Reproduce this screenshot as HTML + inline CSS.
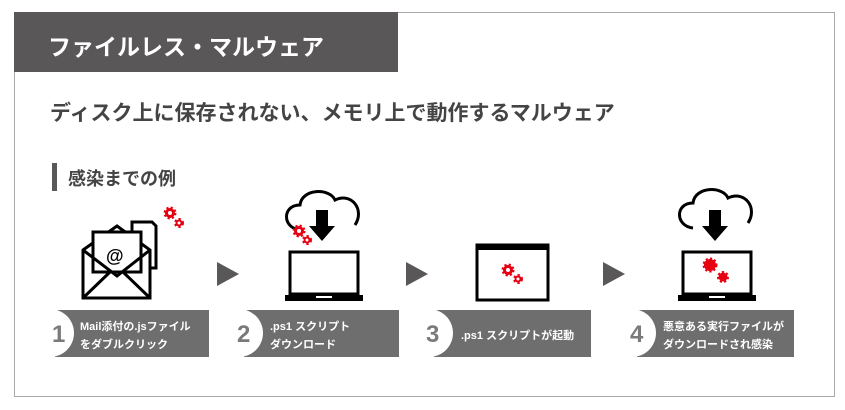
<!DOCTYPE html>
<html><head><meta charset="utf-8"><style>
body{margin:0;width:845px;height:410px;background:#fff;overflow:hidden;font-family:"Liberation Sans","Noto Sans CJK JP",sans-serif;}
.t{position:absolute;white-space:nowrap;font-weight:bold;}
</style></head><body>
<svg width="845" height="410" style="position:absolute;left:0;top:0" xmlns="http://www.w3.org/2000/svg">
<rect x="14.5" y="12.5" width="820" height="384" fill="#fff" stroke="#aaa"/>
<rect x="14" y="12" width="384" height="60" fill="#595757"/>
<rect x="52" y="163" width="5" height="28" fill="#595757"/>
<g fill="#6e6e6e">
<rect x="55" y="310" width="157" height="47"/>
<rect x="244" y="310" width="157" height="47"/>
<rect x="434" y="310" width="157" height="47"/>
<rect x="637" y="310" width="157" height="47"/>
</g>
<g fill="#fff">
<circle cx="50" cy="333" r="24"/><circle cx="239" cy="333" r="24"/><circle cx="429" cy="333" r="24"/><circle cx="632" cy="333" r="24"/>
<rect x="20" y="300" width="35" height="60"/><rect x="209" y="300" width="35" height="60"/><rect x="399" y="300" width="35" height="60"/><rect x="602" y="300" width="35" height="60"/>
</g>
<g fill="#595757">
<polygon points="217,262 217,286 239,274"/>
<polygon points="406,262 406,286 428,274"/>
<polygon points="603,262 603,286 625,274"/>
</g>
<g stroke="#000" stroke-width="3" fill="#fff">
<path d="M132,222 L152,222 L156,226 L156,268 L132,268 Z"/>
<path d="M83,250 L117,226 L150,250 L150,298 L83,298 Z"/>
<rect x="93" y="232" width="48" height="40"/>
<path d="M83,250 L117,276 L150,250" fill="none"/>
<path d="M83,298 L110,272 M150,298 L123,272" fill="none"/>
</g>
<text x="106" y="262" font-size="18" font-weight="bold" font-family="Liberation Sans">@</text>
<g stroke="#000" stroke-width="3" fill="#fff">
<path d="M300,230 C282,228 282,205 300,205 C302,188 330,188 335,200 C352,192 365,210 355,225" fill="none"/>
<rect x="290" y="252" width="68" height="42"/>
</g>
<rect x="285" y="295" width="78" height="6" fill="#000"/>
<rect x="316" y="296" width="16" height="2" fill="#fff"/>
<polygon points="316,210 328,210 328,226 335,226 322,241 309,226 316,226" fill="#000"/>
<rect x="477" y="245" width="71" height="55" fill="#fff" stroke="#000" stroke-width="3"/>
<rect x="477" y="245" width="71" height="5" fill="#000"/>
<g stroke="#000" stroke-width="3" fill="#fff">
<path d="M693,228 C675,226 675,203 693,203 C695,186 723,186 728,198 C745,190 758,208 748,223" fill="none"/>
<rect x="683" y="252" width="68" height="42"/>
</g>
<rect x="678" y="295" width="78" height="6" fill="#000"/>
<rect x="709" y="296" width="16" height="2" fill="#fff"/>
<polygon points="709,210 721,210 721,226 728,226 715,241 702,226 709,226" fill="#000"/>
<g fill="#e60012" stroke="#e60012" stroke-width="3" stroke-dasharray="2 2">
<circle cx="170" cy="213" r="5"/><circle cx="179" cy="223" r="3.5"/>
<circle cx="299" cy="231" r="5"/><circle cx="307" cy="240" r="3.5"/>
<circle cx="508" cy="270" r="5"/><circle cx="518" cy="279" r="3.5"/>
<circle cx="710" cy="265" r="6"/><circle cx="723" cy="277" r="4.5"/>
</g>
<g fill="#fff"><circle cx="170" cy="213" r="2"/><circle cx="179" cy="223" r="1.5"/><circle cx="299" cy="231" r="2"/><circle cx="307" cy="240" r="1.5"/><circle cx="508" cy="270" r="2"/><circle cx="518" cy="279" r="1.5"/></g>
<g fill="#7a7a7a" font-family="Liberation Sans" font-weight="bold" font-size="24">
<text x="52" y="342">1</text><text x="237" y="342">2</text><text x="426" y="342">3</text><text x="630" y="342">4</text>
</g>
</svg>
<div class="t" style="left:48px;top:28px;font-size:23px;color:#fff;">ファイルレス・マルウェア</div>
<div class="t" style="left:50px;top:97px;font-size:21px;color:#444;">ディスク上に保存されない、メモリ上で動作するマルウェア</div>
<div class="t" style="left:68px;top:165px;font-size:18px;color:#444;">感染までの例</div>
<div class="t" style="left:80px;top:318px;font-size:11px;color:#fff;line-height:18px;">Mail添付の.jsファイル<br>をダブルクリック</div>
<div class="t" style="left:270px;top:318px;font-size:11px;color:#fff;line-height:18px;">.ps1 スクリプト<br>ダウンロード</div>
<div class="t" style="left:461px;top:327px;font-size:11px;color:#fff;">.ps1 スクリプトが起動</div>
<div class="t" style="left:663px;top:318px;font-size:11px;color:#fff;line-height:18px;">悪意ある実行ファイルが<br>ダウンロードされ感染</div>
</body></html>
